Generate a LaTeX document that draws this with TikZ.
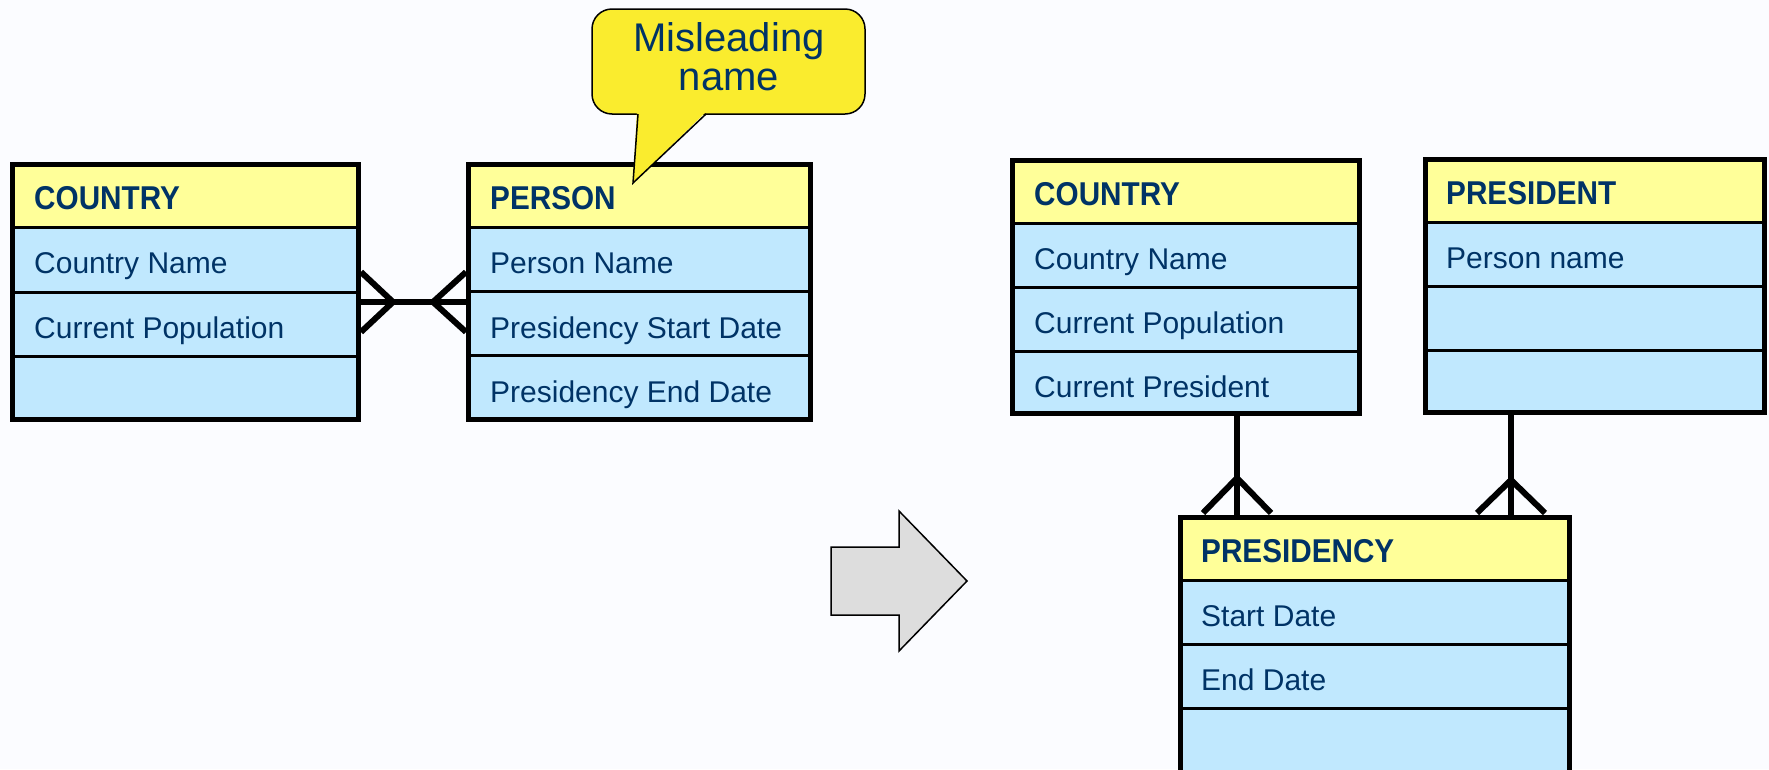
\documentclass[tikz,border=0pt]{standalone}
\usepackage{fontspec}
\setmainfont{Liberation Sans}
\newfontfamily\titlefont[FakeStretch=0.9]{Liberation Sans Bold}
\usetikzlibrary{calc}

\definecolor{ink}{RGB}{0,51,102}
\definecolor{titlebg}{RGB}{255,255,153}
\definecolor{attrbg}{RGB}{192,232,254}
\definecolor{notebg}{RGB}{250,236,46}
\definecolor{arrowbg}{RGB}{221,221,221}
\definecolor{canvas}{RGB}{251,252,255}

% entity box: #1 name, #2 left, #3 top, #4 right, #5 bottom, #6 separator offsets from top
\newcommand\erbox[6]{%
  \fill[attrbg] (#2,#3) rectangle (#4,#5);
  \fill[titlebg] (#2,#3) rectangle (#4,#3+65);
  \foreach \rowy in {#6} \draw[rowline] (#2,#3+\rowy) -- (#4,#3+\rowy);
  \node[entityframe, anchor=north west,
        minimum width=#4-#2-5, minimum height=#5-#3-5] (#1) at (#2,#3) {};
}

\begin{document}
\begin{tikzpicture}[x=1pt,y=-1pt,
  rowline/.style={draw=black,line width=3pt},
  entityframe/.style={rectangle,draw=black,line width=5pt,inner sep=0pt},
  link/.style={draw=black,line width=6pt},
  title/.style={anchor=base west,inner sep=0pt,text=ink,
                font=\titlefont\fontsize{33}{38}\selectfont},
  attr/.style={anchor=base west,inner sep=0pt,text=ink,
               font=\fontsize{30}{36}\selectfont},
  notetext/.style={inner sep=0pt,text=ink,align=center,
                   font=\fontsize{40}{39}\selectfont},
  outline/.style={draw=black,line width=1.5pt}
]
\path[use as bounding box] (0,0) rectangle (1769,769);
\clip (0,0) rectangle (1769,769);
\fill[canvas] (0,0) rectangle (1769,769);

% ---- before: COUNTRY -- PERSON ----
\erbox{lcountry}{10}{162}{361}{422}{65,130,194}
\node[title] (lcountry-t) at (34,209) {COUNTRY};
\node[attr]  (lcountry-a1) at (34,273) {Country Name};
\node[attr]  (lcountry-a2) at (34,338) {Current Population};

\erbox{person}{466}{162}{813}{422}{65,129,193}
\node[title] (person-t) at (490,209) {PERSON};
\node[attr]  (person-a1) at (490,273) {Person Name};
\node[attr]  (person-a2) at (490,338) {Presidency Start Date};
\node[attr]  (person-a3) at (490,402) {Presidency End Date};

% many-to-many link
\coordinate (ylink) at (0,302);
\coordinate (la) at (lcountry.east |- ylink);
\coordinate (lb) at (person.west |- ylink);
\draw[link] (la) -- (lb);
\draw[link] ($(la)+(0,-30)$) -- ($(la)+(32,0)$) -- ($(la)+(0,30)$);
\draw[link] ($(lb)+(0,-30)$) -- ($(lb)+(-33,0)$) -- ($(lb)+(0,30)$);

% callout
\filldraw[fill=notebg, outline, rounded corners=20pt] (592,9) rectangle (865,114);
\fill[notebg] (637,111) -- (633,183) -- (707,111) -- cycle;
\draw[outline, line join=miter] (638,114) -- (633,183) -- (706,114);
\node[notetext] (note) at (729,57) {Misleading\\name};

% transformation arrow
\filldraw[fill=arrowbg, outline]
  (831,547) -- (899,547) -- (899,511) -- (967,581) -- (899,651)
  -- (899,615) -- (831,615) -- cycle;

% ---- after: COUNTRY, PRESIDENT, PRESIDENCY ----
\erbox{rcountry}{1010}{158}{1362}{416}{65,129,193}
\node[title] (rcountry-t) at (1034,205) {COUNTRY};
\node[attr]  (rcountry-a1) at (1034,269) {Country Name};
\node[attr]  (rcountry-a2) at (1034,333) {Current Population};
\node[attr]  (rcountry-a3) at (1034,397) {Current President};

\erbox{president}{1423}{157}{1767}{415}{65,129,193}
\node[title] (president-t) at (1446,204) {PRESIDENT};
\node[attr]  (president-a1) at (1446,268) {Person name};

\erbox{presidency}{1178}{515}{1572}{800}{65,129,193,257}
\node[title] (presidency-t) at (1201,562) {PRESIDENCY};
\node[attr]  (presidency-a1) at (1201,626) {Start Date};
\node[attr]  (presidency-a2) at (1201,690) {End Date};

% one-to-many links
\coordinate (xa) at (1237,0);
\coordinate (xb) at (1511,0);
\coordinate (ca) at (presidency.north -| xa);
\coordinate (cb) at (presidency.north -| xb);
\draw[link] (rcountry.south -| xa) -- (ca);
\draw[link] ($(ca)+(-34,-2)$) -- ($(ca)+(0,-37)$) -- ($(ca)+(34,-2)$);
\draw[link] (president.south -| xb) -- (cb);
\draw[link] ($(cb)+(-34,-2)$) -- ($(cb)+(0,-35)$) -- ($(cb)+(34,-2)$);
\end{tikzpicture}
\end{document}
